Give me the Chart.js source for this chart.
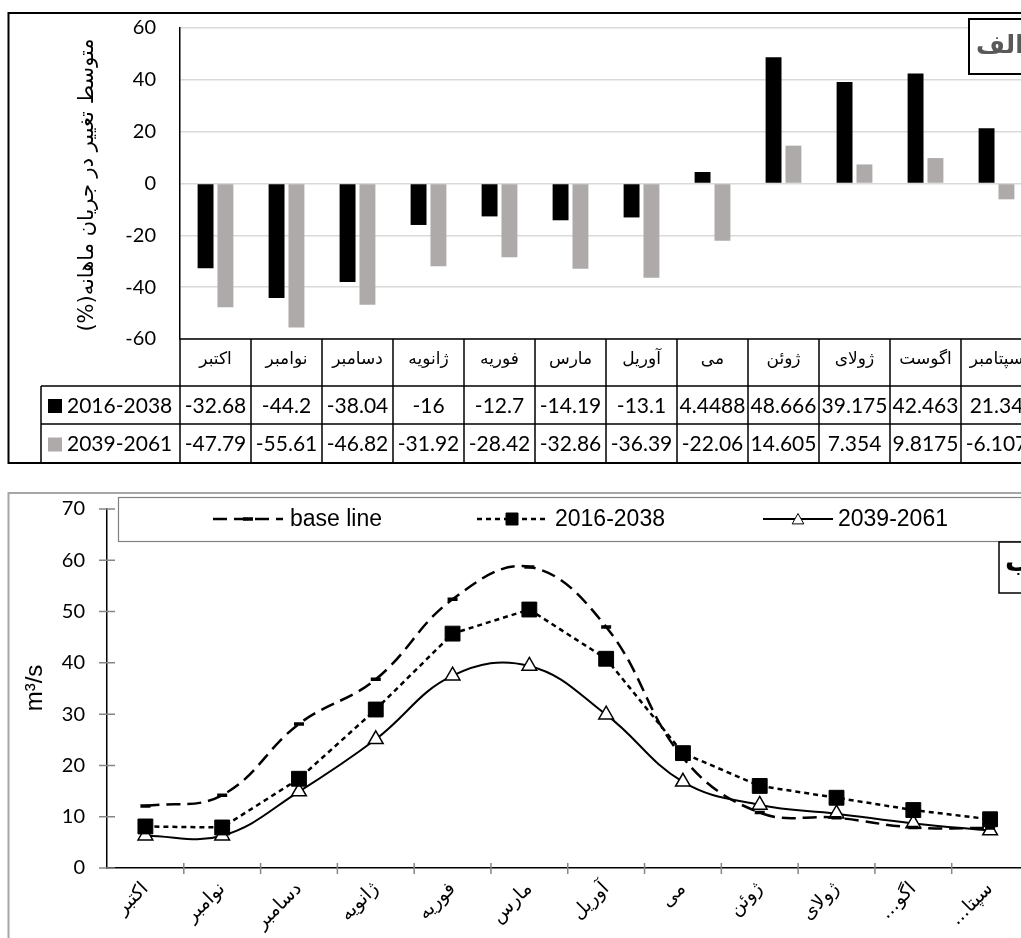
<!DOCTYPE html>
<html><head><meta charset="utf-8">
<script src="https://cdn.jsdelivr.net/npm/chart.js@4.4.0/dist/chart.umd.min.js"></script>
<style>
html,body{margin:0;padding:0;background:#fff;overflow:hidden;}
#wrap{position:relative;width:1021px;height:938px;overflow:hidden;background:#fff;}
#c1{position:absolute;left:0;top:0;}
#c2{position:absolute;left:0;top:480px;}
</style></head><body>
<div id="wrap"><canvas id="c1" width="1040" height="470"></canvas><canvas id="c2" width="1040" height="458"></canvas></div>
<script>
// ---------- data ----------
const months = ['اکتبر','نوامبر','دسامبر','ژانویه','فوریه','مارس','آوریل','می','ژوئن','ژولای','اگوست','سپتامبر'];
const monthsShort = ['اکتبر','نوامبر','دسامبر','ژانویه','فوریه','مارس','آوریل','می','ژوئن','ژولای','اگو...','سپتا...'];
const changeNames = ['2016-2038','2039-2061'];
const change2016 = [-32.68,-44.2,-38.04,-16,-12.7,-14.19,-13.1,4.4488,48.666,39.175,42.463,21.34];
const change2039 = [-47.79,-55.61,-46.82,-31.92,-28.42,-32.86,-36.39,-22.06,14.605,7.354,9.8175,-6.107];
const flowNames = ['base line','2016-2038','2039-2061'];
const flowBase = [12.1,14.2,28.1,36.8,52.4,58.7,47.0,21.5,10.8,9.8,7.9,7.8];
const flow2016 = [8.1,7.9,17.4,30.9,45.7,50.4,40.8,22.4,16.0,13.7,11.3,9.5];
const flow2039 = [6.3,6.3,14.9,25.1,37.5,39.4,29.9,16.8,12.3,10.6,8.7,7.3];
const yTitleTop = 'متوسط تغییر در جریان ماهانه(%)';
const yTitleBottom = 'm³/s';
const panelTop = 'الف';
const panelBottom = 'ب';

const FNUM = 'Lato, "Open Sans", sans-serif';
const FFA = '"DejaVu Sans", sans-serif';
const FLEG = '"Liberation Sans", Arial, sans-serif';

// ---------- top chart plugin ----------
const topPlugin = {
  id:'topDeco',
  beforeDraw(chart){
    const ctx = chart.ctx;
    ctx.save();
    ctx.fillStyle = '#fff';
    ctx.fillRect(0,0,chart.width,chart.height);
    ctx.restore();
  },
  afterDraw(chart){
    const ctx = chart.ctx, xs = chart.scales.x, a = chart.chartArea;
    const n = months.length;
    const half = (xs.getPixelForValue(1) - xs.getPixelForValue(0))/2;
    const yH = a.bottom, yR1 = 386, yR2 = 424, yB = 463, xL = 41;
    const right = 1040;
    ctx.save();
    ctx.strokeStyle = '#000';
    ctx.lineWidth = 1.5;
    ctx.beginPath();
    ctx.moveTo(a.left, yH); ctx.lineTo(right, yH);
    ctx.moveTo(xL, yR1); ctx.lineTo(right, yR1);
    ctx.moveTo(xL, yR2); ctx.lineTo(right, yR2);
    ctx.moveTo(xL, yB); ctx.lineTo(right, yB);
    ctx.moveTo(xL, yR1); ctx.lineTo(xL, yB);
    for (let i=0;i<=n;i++){
      const x = (i<n ? xs.getPixelForValue(i)-half : xs.getPixelForValue(n-1)+half);
      ctx.moveTo(x, yH); ctx.lineTo(x, yB);
    }
    ctx.stroke();
    // header
    ctx.fillStyle = '#000';
    ctx.textAlign = 'center'; ctx.textBaseline = 'middle';
    ctx.font = '17px ' + FFA;
    for (let i=0;i<n;i++) ctx.fillText(months[i], xs.getPixelForValue(i), 360);
    // rows
    const rows = [[change2016, yR1, yR2],[change2039, yR2, yB]];
    rows.forEach((r, k) => {
      const ds = chart.data.datasets[k];
      const yc = (r[1]+r[2])/2 + 1;
      ctx.font = '21px ' + FNUM;
      ctx.textAlign = 'center';
      ctx.fillStyle = '#000';
      for (let i=0;i<n;i++) ctx.fillText(String(r[0][i]), xs.getPixelForValue(i), yc);
      ctx.fillStyle = ds.backgroundColor;
      ctx.fillRect(48, yc-7, 14, 14);
      ctx.fillStyle = '#000';
      ctx.textAlign = 'left';
      ctx.fillText(ds.label, 67, yc);
    });
    // frame
    ctx.lineWidth = 2;
    ctx.strokeRect(8.5, 13, 1100, yB-13);
    // y title
    ctx.save();
    ctx.translate(88, 185);
    ctx.rotate(-Math.PI/2);
    ctx.direction = 'rtl';
    ctx.textAlign = 'center'; ctx.textBaseline = 'middle';
    ctx.font = '21px ' + FFA;
    ctx.fillStyle = '#000';
    ctx.fillText(yTitleTop, 0, 0);
    ctx.restore();
    // panel label
    ctx.fillStyle = '#fff';
    ctx.fillRect(969, 19, 120, 55);
    ctx.lineWidth = 2;
    ctx.strokeStyle = '#000';
    ctx.strokeRect(969, 19, 120, 55);
    ctx.font = 'bold 25px ' + FFA;
    ctx.fillStyle = '#595959';
    ctx.direction = 'rtl';
    ctx.textAlign = 'left'; ctx.textBaseline = 'middle';
    ctx.fillText(panelTop, 976, 46);
    ctx.restore();
  }
};

new Chart(document.getElementById('c1'), {
  type:'bar',
  data:{labels:months, datasets:[
    {label:changeNames[0], data:change2016, backgroundColor:'#000000', borderWidth:0, categoryPercentage:0.56, barPercentage:0.8},
    {label:changeNames[1], data:change2039, backgroundColor:'#aeaaaa', borderWidth:0, categoryPercentage:0.56, barPercentage:0.8}
  ]},
  options:{
    responsive:false, animation:false, devicePixelRatio:1,
    layout:{padding:{left:0, top:28, right:8, bottom:131}},
    plugins:{legend:{display:false}, tooltip:{enabled:false}},
    scales:{
      x:{display:false, offset:true},
      y:{min:-60, max:60,
         ticks:{stepSize:20, padding:24, color:'#000', font:{family:FNUM, size:20}},
         grid:{color:'#d9d9d9', lineWidth:1.5, drawTicks:false},
         border:{display:true, color:'#000', width:1.5},
         afterFit:s=>{s.width=180; s.paddingTop=0; s.paddingBottom=0;}}
    }
  },
  plugins:[topPlugin]
});

// ---------- bottom chart plugin ----------
function marker(ctx, style, x, y, r, fill, bw){
  ctx.save();
  ctx.setLineDash([]);
  ctx.strokeStyle = '#000'; ctx.fillStyle = fill; ctx.lineWidth = bw;
  ctx.beginPath();
  if (style==='line'){ ctx.moveTo(x-r,y); ctx.lineTo(x+r,y); ctx.stroke(); }
  else if (style==='rect'){ ctx.rect(x-r,y-r,2*r,2*r); ctx.fill(); ctx.stroke(); }
  else if (style==='triangle'){
    ctx.moveTo(x, y-r); ctx.lineTo(x+r*0.9, y+r*0.6); ctx.lineTo(x-r*0.9, y+r*0.6); ctx.closePath();
    ctx.fill(); ctx.stroke();
  }
  ctx.restore();
}
const bottomPlugin = {
  id:'bottomDeco',
  beforeDraw(chart){
    const ctx = chart.ctx;
    ctx.save(); ctx.fillStyle='#fff'; ctx.fillRect(0,0,chart.width,chart.height); ctx.restore();
  },
  afterDraw(chart){
    const ctx = chart.ctx, xs = chart.scales.x, ys = chart.scales.y, a = chart.chartArea;
    const n = monthsShort.length;
    const half = (xs.getPixelForValue(1) - xs.getPixelForValue(0))/2;
    ctx.save();
    ctx.strokeStyle = '#868686'; ctx.lineWidth = 1.5;
    ctx.beginPath();
    ys.ticks.forEach(t => { const y = ys.getPixelForValue(t.value); ctx.moveTo(a.left-8, y); ctx.lineTo(a.left+8, y); });
    for (let i=1;i<=n;i++){ const x = (i<n ? xs.getPixelForValue(i)-half : xs.getPixelForValue(n-1)+half); ctx.moveTo(x, a.bottom-5); ctx.lineTo(x, a.bottom+6); }
    ctx.stroke();
    ctx.strokeStyle = '#a6a6a6'; ctx.lineWidth = 2;
    ctx.strokeRect(8.5, 13, 1100, 600);
    ctx.save();
    ctx.translate(35, 208);
    ctx.rotate(-Math.PI/2);
    ctx.textAlign='center'; ctx.textBaseline='middle';
    ctx.font = '24px ' + FLEG; ctx.fillStyle = '#000';
    ctx.fillText(yTitleBottom, 0, 0);
    ctx.restore();
    ctx.fillStyle = '#fff';
    ctx.fillRect(118, 17, 1000, 44);
    ctx.strokeStyle = '#808080'; ctx.lineWidth = 1.2;
    ctx.strokeRect(118.5, 17.5, 1000, 44);
    const items = [{x0:213, tx:290},{x0:477, tx:555},{x0:763, tx:838}];
    const msz = [{r:5,bw:3.5,fill:'#000'},{r:6,bw:1,fill:'#000'},{r:6.5,bw:1,fill:'#fff'}];
    chart.data.datasets.forEach((ds, k) => {
      const it = items[k], yc = 39;
      ctx.save();
      ctx.strokeStyle = '#000'; ctx.lineWidth = ds.borderWidth;
      ctx.setLineDash(ds.borderDash || []);
      ctx.beginPath(); ctx.moveTo(it.x0, yc); ctx.lineTo(it.x0+70, yc); ctx.stroke();
      ctx.restore();
      marker(ctx, ds.pointStyle, it.x0+35, yc + (ds.pointStyle==='triangle'?1:0), msz[k].r, msz[k].fill, msz[k].bw);
      ctx.fillStyle = '#000'; ctx.font = '23px ' + FLEG;
      ctx.textAlign='left'; ctx.textBaseline='middle';
      ctx.fillText(ds.label, it.tx, yc+1);
    });
    ctx.fillStyle = '#fff';
    ctx.fillRect(999, 62, 120, 51);
    ctx.strokeStyle = '#000'; ctx.lineWidth = 1.5;
    ctx.strokeRect(999, 62, 120, 51);
    ctx.font = 'bold 28px ' + FFA; ctx.fillStyle = '#000';
    ctx.direction = 'rtl'; ctx.textAlign='left'; ctx.textBaseline='middle';
    ctx.fillText(panelBottom, 1005, 84);
    ctx.restore();
  }
};

new Chart(document.getElementById('c2'), {
  type:'line',
  data:{labels:monthsShort, datasets:[
    {label:flowNames[0], data:flowBase, borderColor:'#000', borderWidth:2.5, borderDash:[14,7], tension:0.4, fill:false,
     pointStyle:'line', pointRadius:5, pointBorderWidth:3.5, pointBorderColor:'#000', pointBackgroundColor:'#000'},
    {label:flowNames[1], data:flow2016, borderColor:'#000', borderWidth:2.5, borderDash:[5,4], tension:0, fill:false,
     pointStyle:'rect', pointRadius:10.5, pointBorderWidth:1, pointBorderColor:'#000', pointBackgroundColor:'#000'},
    {label:flowNames[2], data:flow2039, borderColor:'#000', borderWidth:2, tension:0.4, fill:false,
     pointStyle:'triangle', pointRadius:8.5, pointBorderWidth:1.5, pointBorderColor:'#000', pointBackgroundColor:'#fff'}
  ]},
  options:{
    responsive:false, animation:false, devicePixelRatio:1,
    layout:{padding:{left:0, top:29, right:9, bottom:0}},
    plugins:{legend:{display:false}, tooltip:{enabled:false}},
    scales:{
      x:{offset:true,
         grid:{offset:true, drawOnChartArea:false, drawTicks:false},
         border:{display:true, color:'#000', width:1.5},
         ticks:{minRotation:45, maxRotation:45, autoSkip:false, padding:10, color:'#000', font:{family:FFA, size:19},
                callback:(v,i)=>monthsShort[i] + '\u200F'},
         afterFit:s=>{s.height=70;}},
      y:{min:0, max:70,
         ticks:{stepSize:10, padding:22, color:'#000', font:{family:FNUM, size:20}},
         grid:{drawOnChartArea:false, drawTicks:false},
         border:{display:true, color:'#000', width:1.5},
         afterFit:s=>{s.width=107; s.paddingTop=0; s.paddingBottom=0;}}
    }
  },
  plugins:[bottomPlugin]
});
</script>
</body></html>
